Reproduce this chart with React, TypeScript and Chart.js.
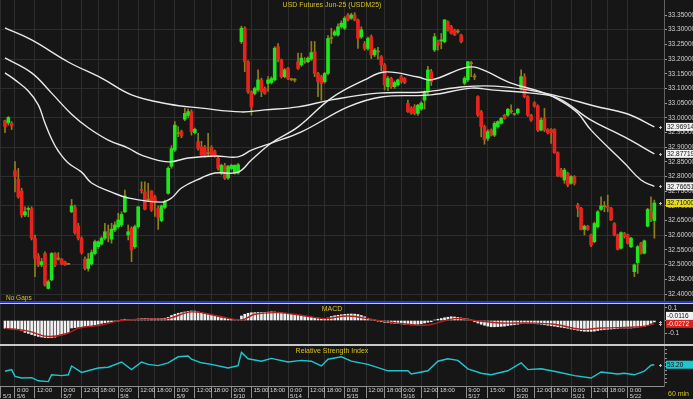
import React, { useEffect, useRef } from "react";
import { Chart, registerables } from "chart.js";
Chart.register(...registerables);

// ---------------- data ----------------
const OPEN = [
  32.990,32.983,32.981,32.820,32.791,32.751,32.669,32.688,32.691,32.590,
  32.530,32.499,32.538,32.419,32.448,32.538,32.519,32.519,32.510,32.502,
  32.680,32.695,32.632,32.590,32.519,32.487,32.502,32.538,32.561,32.570,
  32.590,32.609,32.587,32.618,32.629,32.635,32.680,32.601,32.624,32.561,
  32.629,32.755,32.748,32.722,32.751,32.731,32.692,32.650,32.695,32.743,
  32.835,32.890,32.948,32.953,32.995,33.008,33.021,32.949,32.919,32.902,
  32.900,32.880,32.900,32.885,32.862,32.812,32.838,32.795,32.827,32.812,
  32.812,33.259,33.305,33.191,33.089,33.083,33.095,33.129,33.100,33.117,
  33.120,33.129,33.242,33.197,33.140,33.168,33.131,33.128,33.191,33.180,
  33.190,33.191,33.200,33.225,33.151,33.140,33.123,33.151,33.270,33.282,
  33.282,33.310,33.305,33.350,33.339,33.350,33.333,33.275,33.253,33.236,
  33.276,33.214,33.225,33.208,33.180,33.106,33.134,33.106,33.112,33.140,
  33.134,33.049,33.032,33.038,33.015,33.030,33.060,33.089,33.157,33.231,
  33.259,33.262,33.259,33.327,33.310,33.299,33.293,33.282,33.118,33.129,
  33.186,33.141,33.072,33.021,32.970,32.930,32.958,32.941,32.970,32.981,
  33.009,33.009,33.022,33.013,33.017,33.100,33.140,33.072,33.009,33.051,
  33.040,32.958,32.998,32.960,32.960,32.960,32.881,32.822,32.788,32.811,
  32.777,32.800,32.703,32.692,32.620,32.631,32.601,32.578,32.629,32.688,
  32.698,32.697,32.692,32.640,32.601,32.556,32.607,32.601,32.561,32.476,
  32.507,32.573,32.539,32.631,32.680,32.650,
];
const HIGH = [
  32.992,33.004,32.987,32.851,32.828,32.760,32.697,32.697,32.697,32.601,
  32.538,32.521,32.544,32.448,32.541,32.541,32.541,32.521,32.512,32.503,
  32.722,32.703,32.641,32.595,32.527,32.538,32.550,32.584,32.581,32.595,
  32.641,32.635,32.641,32.646,32.675,32.680,32.754,32.635,32.629,32.635,
  32.697,32.782,32.782,32.777,32.752,32.737,32.700,32.703,32.720,32.833,
  32.905,32.987,32.970,32.958,33.032,33.030,33.027,32.965,32.947,32.920,
  32.906,32.947,32.905,32.890,32.868,32.842,32.845,32.838,32.842,32.840,
  32.845,33.312,33.310,33.195,33.092,33.104,33.163,33.135,33.105,33.140,
  33.140,33.242,33.253,33.200,33.168,33.172,33.134,33.134,33.220,33.220,
  33.205,33.208,33.260,33.260,33.155,33.145,33.155,33.280,33.305,33.298,
  33.320,33.330,33.345,33.355,33.356,33.358,33.336,33.310,33.260,33.275,
  33.282,33.236,33.240,33.212,33.185,33.140,33.138,33.125,33.132,33.145,
  33.137,33.060,33.038,33.045,33.046,33.055,33.092,33.175,33.165,33.287,
  33.265,33.287,33.335,33.330,33.315,33.302,33.300,33.285,33.140,33.192,
  33.192,33.150,33.075,33.025,32.975,32.960,32.962,32.987,32.990,33.002,
  33.012,33.032,33.044,33.015,33.032,33.163,33.150,33.075,33.012,33.055,
  33.044,33.000,33.032,32.963,32.963,32.963,32.884,32.828,32.828,32.815,
  32.803,32.803,32.709,32.695,32.635,32.634,32.604,32.645,32.684,32.731,
  32.715,32.737,32.695,32.643,32.604,32.612,32.610,32.604,32.593,32.502,
  32.565,32.576,32.584,32.692,32.731,32.720,
];
const LOW = [
  32.949,32.975,32.960,32.748,32.726,32.661,32.663,32.663,32.584,32.459,
  32.493,32.493,32.427,32.417,32.445,32.493,32.515,32.500,32.497,32.500,
  32.677,32.604,32.584,32.536,32.482,32.478,32.498,32.533,32.555,32.566,
  32.584,32.578,32.573,32.612,32.624,32.629,32.677,32.584,32.510,32.555,
  32.624,32.743,32.686,32.714,32.681,32.664,32.620,32.646,32.690,32.740,
  32.828,32.885,32.936,32.932,32.990,33.000,32.941,32.945,32.890,32.868,
  32.866,32.868,32.868,32.866,32.822,32.806,32.790,32.790,32.822,32.808,
  32.808,33.253,33.157,33.083,33.009,33.078,33.090,33.072,33.080,33.090,
  33.115,33.125,33.190,33.135,33.136,33.130,33.126,33.122,33.165,33.175,
  33.185,33.188,33.195,33.140,33.072,33.060,33.118,33.146,33.253,33.278,
  33.278,33.305,33.300,33.330,33.335,33.330,33.236,33.270,33.230,33.230,
  33.202,33.208,33.200,33.160,33.095,33.092,33.100,33.100,33.108,33.118,
  33.116,33.018,33.012,33.010,33.008,33.025,33.030,33.080,33.110,33.225,
  33.230,33.235,33.255,33.295,33.285,33.280,33.288,33.255,33.112,33.123,
  33.140,33.130,33.005,32.935,32.910,32.922,32.938,32.936,32.965,32.978,
  32.995,33.005,33.015,33.008,33.012,33.094,33.068,33.005,32.988,33.036,
  32.953,32.955,32.953,32.945,32.913,32.879,32.800,32.798,32.777,32.765,
  32.774,32.771,32.663,32.618,32.601,32.617,32.561,32.575,32.625,32.685,
  32.680,32.680,32.650,32.598,32.550,32.553,32.590,32.570,32.558,32.459,
  32.470,32.536,32.536,32.628,32.646,32.590,
];
const CLOSE = [
  32.970,33.001,32.972,32.800,32.731,32.669,32.680,32.691,32.590,32.521,
  32.499,32.510,32.431,32.442,32.538,32.499,32.521,32.502,32.499,32.501,
  32.700,32.609,32.590,32.541,32.487,32.519,32.541,32.578,32.578,32.590,
  32.612,32.598,32.621,32.635,32.652,32.671,32.734,32.612,32.550,32.629,
  32.697,32.752,32.689,32.720,32.686,32.714,32.661,32.700,32.714,32.828,
  32.895,32.975,32.946,32.938,33.015,33.021,32.953,32.961,32.896,32.873,
  32.870,32.878,32.873,32.873,32.828,32.838,32.794,32.834,32.838,32.838,
  32.840,33.305,33.191,33.089,33.038,33.100,33.129,33.089,33.083,33.129,
  33.134,33.237,33.197,33.140,33.163,33.134,33.130,33.129,33.168,33.203,
  33.191,33.203,33.222,33.151,33.123,33.117,33.151,33.270,33.272,33.293,
  33.310,33.322,33.339,33.333,33.350,33.333,33.270,33.300,33.236,33.270,
  33.214,33.231,33.224,33.180,33.112,33.134,33.106,33.120,33.129,33.123,
  33.120,33.021,33.015,33.015,33.043,33.050,33.089,33.163,33.123,33.276,
  33.248,33.265,33.333,33.299,33.288,33.282,33.292,33.259,33.134,33.191,
  33.184,33.139,33.010,32.970,32.925,32.953,32.941,32.981,32.987,32.998,
  32.998,33.029,33.021,33.012,33.029,33.140,33.072,33.009,32.992,33.040,
  32.958,32.992,32.958,32.949,32.949,32.881,32.802,32.800,32.822,32.771,
  32.800,32.777,32.692,32.620,32.631,32.620,32.567,32.640,32.680,32.700,
  32.697,32.694,32.652,32.601,32.552,32.609,32.595,32.573,32.590,32.499,
  32.561,32.539,32.581,32.688,32.658,32.710,
];

const MA_SLOW_IDX = [0, 8, 19, 29, 38, 49, 59, 71, 78, 88, 98, 112, 126, 137, 147, 157, 167, 177, 187, 195];
const MA_SLOW_VAL = [33.306, 33.265, 33.190, 33.135, 33.078, 33.047, 33.033, 33.020, 33.027, 33.037, 33.061, 33.084, 33.088, 33.105, 33.108, 33.095, 33.071, 33.040, 33.013, 32.96914];
const MA_MID_IDX = [0, 8, 14, 20, 25, 31, 37, 41, 49, 55, 63, 70, 74, 80, 89, 103, 113, 128, 140, 146, 158, 166, 176, 186, 195];
const MA_MID_VAL = [33.204, 33.153, 33.084, 33.012, 32.966, 32.924, 32.897, 32.873, 32.850, 32.863, 32.870, 32.867, 32.890, 32.914, 32.952, 33.037, 33.071, 33.078, 33.101, 33.095, 33.084, 33.067, 32.992, 32.935, 32.87719];
const MA_FAST_IDX = [0, 3, 7, 10, 12, 14, 16, 19, 23, 26, 32, 37, 47, 50, 53, 59, 63, 70, 74, 80, 88, 98, 108, 114, 124, 128, 138, 142, 152, 161, 167, 172, 176, 186, 191, 195];
const MA_FAST_VAL = [33.153, 33.129, 33.091, 33.044, 32.982, 32.928, 32.887, 32.846, 32.815, 32.778, 32.747, 32.727, 32.713, 32.727, 32.761, 32.795, 32.812, 32.815, 32.856, 32.914, 32.969, 33.067, 33.129, 33.156, 33.139, 33.129, 33.170, 33.170, 33.118, 33.088, 33.057, 33.016, 32.958, 32.846, 32.788, 32.76651];

const MACD = [
  -0.062,-0.062,-0.063,-0.064,-0.070,-0.082,-0.095,-0.103,-0.112,-0.120,
  -0.127,-0.132,-0.136,-0.138,-0.137,-0.133,-0.122,-0.115,-0.108,-0.098,
  -0.060,-0.057,-0.053,-0.050,-0.048,-0.046,-0.042,-0.036,-0.030,-0.023,
  -0.018,-0.014,-0.011,-0.008,-0.003,0.003,0.010,0.008,0.006,0.008,
  0.012,0.015,0.016,0.015,0.015,0.015,0.014,0.015,0.018,0.025,
  0.040,0.050,0.058,0.063,0.068,0.073,0.076,0.075,0.068,0.063,
  0.055,0.048,0.042,0.036,0.028,0.022,0.016,0.012,0.008,0.005,
  0.004,0.036,0.050,0.058,0.062,0.063,0.064,0.064,0.065,0.067,
  0.069,0.068,0.066,0.062,0.058,0.052,0.049,0.046,0.042,0.038,
  0.034,0.030,0.027,0.024,0.020,0.014,0.010,0.020,0.032,0.038,
  0.042,0.046,0.049,0.051,0.052,0.051,0.048,0.040,0.030,0.018,
  0.010,0.002,-0.005,-0.010,-0.014,-0.017,-0.020,-0.022,-0.024,-0.027,
  -0.030,-0.033,-0.035,-0.033,-0.030,-0.026,-0.020,-0.014,-0.010,0.004,
  0.010,0.016,0.022,0.026,0.030,0.028,0.025,0.020,0.015,0.012,
  0.002,-0.010,-0.020,-0.030,-0.038,-0.045,-0.050,-0.050,-0.049,-0.047,
  -0.045,-0.040,-0.036,-0.033,-0.030,-0.025,-0.020,-0.022,-0.022,-0.024,
  -0.027,-0.030,-0.034,-0.038,-0.042,-0.045,-0.050,-0.054,-0.058,-0.062,
  -0.068,-0.072,-0.078,-0.083,-0.086,-0.087,-0.087,-0.085,-0.080,-0.075,
  -0.072,-0.070,-0.068,-0.066,-0.063,-0.060,-0.060,-0.060,-0.060,-0.058,
  -0.054,-0.050,-0.047,-0.035,-0.022,-0.0116,
];
const SIGNAL_IDX = [0, 7, 13, 19, 22, 29, 35, 44, 49, 56, 64, 71, 75, 82, 89, 96, 103, 111, 121, 127, 135, 141, 149, 157, 165, 173, 179, 191, 195];
const SIGNAL_VAL = [-0.063, -0.085, -0.128, -0.100, -0.062, -0.036, 0.000, 0.012, 0.015, 0.069, 0.036, 0.005, 0.050, 0.063, 0.042, 0.015, 0.036, 0.005, -0.030, -0.036, 0.015, 0.000, -0.020, -0.020, -0.030, -0.070, -0.060, -0.050, -0.0272];

const RSI_IDX = [0, 2, 3, 5, 8, 10, 13, 14, 17, 19, 20, 23, 28, 31, 35, 38, 41, 43, 46, 49, 52, 55, 56, 59, 62, 67, 70, 71, 73, 77, 80, 85, 89, 92, 95, 97, 101, 104, 109, 115, 121, 122, 127, 130, 133, 136, 139, 143, 146, 151, 155, 157, 161, 166, 171, 176, 179, 184, 186, 189, 192, 194, 195];
const RSI_VAL = [37, 41, 24, 20, 21, 13, 11, 28, 26, 28, 50, 34, 45, 47, 60, 41, 60, 54, 51, 58, 73, 75, 67, 58, 54, 45, 51, 84, 68, 62, 69, 60, 64, 62, 50, 67, 73, 62, 54, 38, 38, 30, 38, 62, 68, 64, 43, 32, 28, 38, 58, 41, 43, 35, 26, 20, 35, 30, 32, 28, 37, 52, 53.2];

const PRICE_TICKS = [32.40, 32.45, 32.50, 32.55, 32.60, 32.65, 32.70, 32.75, 32.80, 32.85, 32.90, 32.95, 33.00, 33.05, 33.10, 33.15, 33.20, 33.25, 33.30, 33.35];
const MACD_TICKS = [0.1, 0, -0.1];
const MACD_TICK_LABELS = ["0.1", "", "-0.1"];
const RSI_TICKS = [10, 20, 30, 40, 50, 60, 70, 80, 90];

const TICK_IDX = [-1.2, 3, 9, 17, 23, 28, 34, 40, 45, 51, 57, 62, 68, 74, 79, 85, 91, 96, 102, 108.5, 114, 119, 125, 130, 138.5, 145, 153, 159, 164, 170, 176, 181, 187];
const TICK_TIME = ["", "0:00", "12:00", "0:00", "12:00", "18:00", "0:00", "12:00", "18:00", "0:00", "12:00", "18:00", "0:00", "15:00", "18:00", "0:00", "12:00", "18:00", "0:00", "12:00", "18:00", "0:00", "12:00", "18:00", "9:00", "15:00", "0:00", "12:00", "18:00", "0:00", "12:00", "18:00", "0:00"];
const TICK_DATE = ["5/3", "5/6", "", "5/7", "", "", "5/8", "", "", "5/9", "", "", "5/10", "", "", "5/14", "", "", "5/15", "", "", "5/16", "", "", "5/17", "", "5/20", "", "", "5/21", "", "", "5/22"];

// ---------------- style ----------------
const FONT = '"Liberation Sans", Arial, sans-serif';
const BG = "#161616";
const GRID = "#2d2d2d";
const YELLOW = "#d6c31c";
const GREEN = "#1ee61e";
const RED = "#e8231f";
const WICK = "#8f7f1a";
const MA_COLOR = "#e9e9e9";
const X_MIN = -1.5;
const X_MAX = 197.9;

const pts = (idx: number[], val: number[]) => idx.map((x, i) => ({ x, y: val[i] }));

function xAxis(showLabels: boolean) {
  return {
    type: "linear",
    min: X_MIN,
    max: X_MAX,
    offset: false,
    afterBuildTicks: (s: any) => { s.ticks = TICK_IDX.map((v) => ({ value: v })); },
    afterFit: (s: any) => { s.height = showLabels ? 13 : 0; s.paddingLeft = 0; s.paddingRight = 0; },
    grid: { display: true, offset: false, color: GRID, lineWidth: 1, drawTicks: showLabels, tickLength: 12, tickColor: "#8d8d8d" },
    border: { display: showLabels, color: "#8d8d8d" },
    ticks: {
      display: showLabels, autoSkip: false, maxRotation: 0, minRotation: 0, align: "start",
      labelOffset: 2, padding: -11, color: "#d5d5d5",
      font: { size: 6, family: FONT, lineHeight: 1 },
      callback: (_v: any, i: number) => [TICK_TIME[i], TICK_DATE[i]],
    },
  };
}

function yAxisBase(ticks: number[], labels: (v: number, i: number) => string, showLabels: boolean, gridColor: (v: number) => string) {
  return {
    position: "right",
    afterBuildTicks: (s: any) => { s.ticks = ticks.map((v) => ({ value: v })); },
    afterFit: (s: any) => { s.width = 29; s.paddingTop = 0; s.paddingBottom = 0; },
    grid: { color: (c: any) => gridColor(c.tick ? c.tick.value : 0), drawTicks: true, tickLength: 3, tickColor: "#9a9a9a" },
    border: { display: true, color: "#626262" },
    ticks: { display: showLabels, color: "#d2d2d2", padding: 1, font: { size: 6.5, family: FONT }, callback: (v: number, i: number) => labels(v, i) },
  };
}

function valueBoxes(items: { value: number; text: string; bg: string; fg: string }[]) {
  return {
    id: "valueBoxes",
    afterDraw(chart: any) {
      const { ctx, chartArea, scales } = chart;
      const ys = scales.y;
      ctx.save();
      ctx.font = `6.5px ${FONT}`;
      ctx.textBaseline = "middle";
      let prevTop = Infinity;
      items.forEach((it) => {
        let cy = ys.getPixelForValue(it.value);
        const markY = cy;
        if (cy + 4 > prevTop) cy = prevTop - 4;
        prevTop = cy - 4;
        ctx.fillStyle = it.bg;
        ctx.fillRect(chartArea.right + 2, cy - 4, 28, 8);
        ctx.fillStyle = it.fg;
        ctx.fillText(it.text, chartArea.right + 3, cy + 0.5);
        ctx.strokeStyle = "#bdbdbd";
        ctx.lineWidth = 1;
        ctx.beginPath();
        ctx.moveTo(chartArea.right - 5, Math.round(markY) + 0.5);
        ctx.lineTo(chartArea.right - 2, Math.round(markY) + 0.5);
        ctx.moveTo(chartArea.right - 3.5, Math.round(markY) - 1);
        ctx.lineTo(chartArea.right - 3.5, Math.round(markY) + 2);
        ctx.stroke();
      });
      ctx.restore();
    },
  };
}

const bodyColor = (i: number) => {
  const d = CLOSE[i] - OPEN[i];
  if (Math.abs(d) < 0.0025) return WICK;
  return d > 0 ? GREEN : RED;
};

export default function App() {
  const priceRef = useRef<HTMLCanvasElement>(null);
  const macdRef = useRef<HTMLCanvasElement>(null);
  const rsiRef = useRef<HTMLCanvasElement>(null);

  useEffect(() => {
    const charts: Chart[] = [];
    const common = {
      responsive: false,
      animation: false,
      devicePixelRatio: 1,
      events: [],
      layout: { padding: 0, autoPadding: false },
      plugins: { legend: { display: false }, tooltip: { enabled: false }, title: { display: false } },
    };

    // ---------- price ----------
    const pMax = 33.35 + 15 / 293.7;
    const pMin = pMax - 301 / 293.7;
    charts.push(new Chart(priceRef.current as HTMLCanvasElement, {
      type: "bar",
      data: {
        datasets: [
          { type: "line", data: pts(MA_SLOW_IDX, MA_SLOW_VAL), borderColor: MA_COLOR, borderWidth: 1.4, pointRadius: 0, tension: 0.4, order: 0 },
          { type: "line", data: pts(MA_MID_IDX, MA_MID_VAL), borderColor: MA_COLOR, borderWidth: 1.4, pointRadius: 0, tension: 0.4, order: 0 },
          { type: "line", data: pts(MA_FAST_IDX, MA_FAST_VAL), borderColor: MA_COLOR, borderWidth: 1.4, pointRadius: 0, tension: 0.4, order: 0 },
          { type: "bar", data: CLOSE.map((c, i) => ({ x: i, y: [OPEN[i], c] })), backgroundColor: CLOSE.map((_, i) => bodyColor(i)), barThickness: 3, minBarLength: 1, grouped: false, order: 1 },
          { type: "bar", data: CLOSE.map((_, i) => ({ x: i, y: [LOW[i], HIGH[i]] })), backgroundColor: WICK, barThickness: 1, grouped: false, order: 2 },
        ],
      } as any,
      options: {
        ...common,
        scales: {
          x: xAxis(false),
          y: { ...yAxisBase(PRICE_TICKS, (v) => v.toFixed(5), true, (v) => (Math.abs(Math.round(v * 100) % 10) === 0 ? GRID : "rgba(0,0,0,0)")), min: pMin, max: pMax },
        },
      } as any,
      plugins: [valueBoxes([
        { value: CLOSE[CLOSE.length - 1], text: CLOSE[CLOSE.length - 1].toFixed(5), bg: "#e6dc1e", fg: "#111" },
        { value: MA_FAST_VAL[MA_FAST_VAL.length - 1], text: MA_FAST_VAL[MA_FAST_VAL.length - 1].toFixed(5), bg: "#f2f2f2", fg: "#111" },
        { value: MA_MID_VAL[MA_MID_VAL.length - 1], text: MA_MID_VAL[MA_MID_VAL.length - 1].toFixed(5), bg: "#f2f2f2", fg: "#111" },
        { value: MA_SLOW_VAL[MA_SLOW_VAL.length - 1], text: MA_SLOW_VAL[MA_SLOW_VAL.length - 1].toFixed(5), bg: "#f2f2f2", fg: "#111" },
      ]) as any],
    }));

    // ---------- MACD ----------
    charts.push(new Chart(macdRef.current as HTMLCanvasElement, {
      type: "bar",
      data: {
        datasets: [
          { type: "line", data: pts(SIGNAL_IDX, SIGNAL_VAL), borderColor: "#b3201c", borderWidth: 1.4, pointRadius: 0, tension: 0.4, order: 0 },
          { type: "bar", data: MACD.map((v, i) => ({ x: i, y: v })), backgroundColor: "#f0f0f0", barThickness: 2, grouped: false, order: 1 },
        ],
      } as any,
      options: {
        ...common,
        scales: {
          x: xAxis(false),
          y: { ...yAxisBase(MACD_TICKS, (_v, i) => MACD_TICK_LABELS[i], true, () => "rgba(0,0,0,0)"), min: -23.5 / 125, max: 16.5 / 125 },
        },
      } as any,
      plugins: [valueBoxes([
        { value: SIGNAL_VAL[SIGNAL_VAL.length - 1], text: SIGNAL_VAL[SIGNAL_VAL.length - 1].toFixed(4), bg: "#d8231d", fg: "#fff" },
        { value: MACD[MACD.length - 1], text: MACD[MACD.length - 1].toFixed(4), bg: "#f2f2f2", fg: "#111" },
      ]) as any],
    }));

    // ---------- RSI ----------
    charts.push(new Chart(rsiRef.current as HTMLCanvasElement, {
      type: "line",
      data: {
        datasets: [
          { data: pts(RSI_IDX, RSI_VAL), borderColor: "#1fc6cf", borderWidth: 1.4, pointRadius: 0, tension: 0 },
        ],
      } as any,
      options: {
        ...common,
        scales: {
          x: xAxis(true),
          y: { ...yAxisBase(RSI_TICKS, () => "", false, () => "rgba(0,0,0,0)"), min: 0, max: 100 },
        },
      } as any,
      plugins: [valueBoxes([
        { value: RSI_VAL[RSI_VAL.length - 1], text: RSI_VAL[RSI_VAL.length - 1].toFixed(2), bg: "#1fc6cf", fg: "#111" },
      ]) as any],
    }));

    return () => charts.forEach((c) => c.destroy());
  }, []);

  const txt = (extra: any) => ({ position: "absolute" as const, color: YELLOW, fontFamily: FONT, fontSize: 7, lineHeight: "7px", whiteSpace: "nowrap" as const, ...extra });

  return (
    <div style={{ position: "fixed", left: 0, top: 0, width: 693, height: 399, background: BG, overflow: "hidden" }}>
      <canvas ref={priceRef} width={693} height={301} style={{ position: "absolute", left: 0, top: 0, width: 693, height: 301 }} />
      <div style={{ position: "absolute", left: 0, top: 301, width: 693, height: 2, background: "#2536c8" }} />
      <div style={{ position: "absolute", left: 0, top: 303, width: 693, height: 1, background: "#cfcfcf" }} />
      <canvas ref={macdRef} width={693} height={40} style={{ position: "absolute", left: 0, top: 304, width: 693, height: 40 }} />
      <div style={{ position: "absolute", left: 0, top: 344, width: 693, height: 2, background: "#c8c8c8" }} />
      <canvas ref={rsiRef} width={693} height={53} style={{ position: "absolute", left: 0, top: 346, width: 693, height: 53 }} />

      <div style={txt({ left: 0, top: 1, width: 664, textAlign: "center" })}>USD Futures Jun-25 (USDM25)</div>
      <div style={txt({ left: 6, top: 294, fontSize: 6.5 })}>No Gaps</div>
      <div style={txt({ left: 0, top: 305, width: 664, textAlign: "center" })}>MACD</div>
      <div style={txt({ left: 0, top: 347, width: 664, textAlign: "center" })}>Relative Strength Index</div>
      <div style={txt({ left: 668, top: 390 })}>60 min</div>
    </div>
  );
}
